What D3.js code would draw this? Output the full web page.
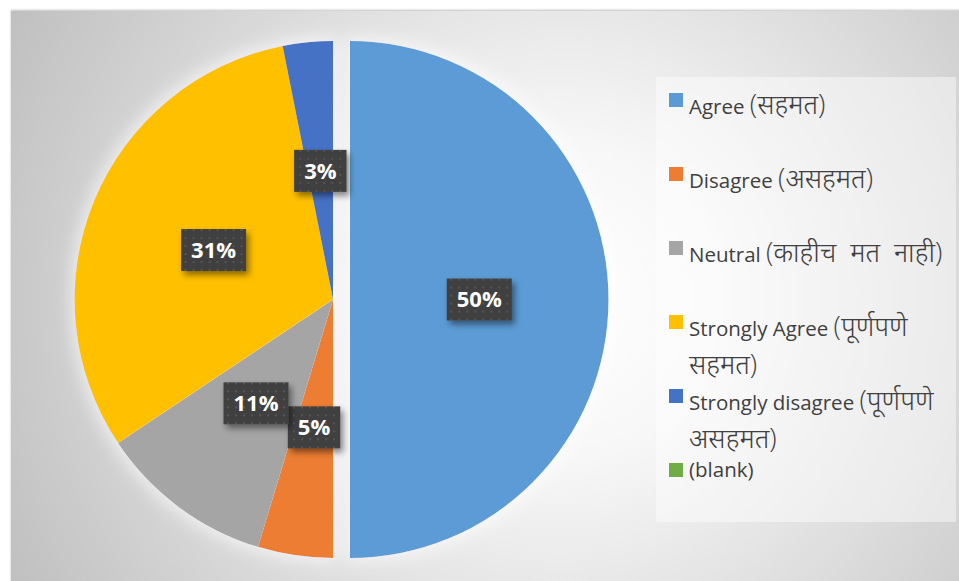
<!DOCTYPE html>
<html lang="en">
<head>
  <meta charset="UTF-8" />
  <title>Pie D3</title>
  <script src="https://d3js.org/d3.v7.min.js"></script>
  <style>
    body { margin: 0; background: #fff; }
    svg { display: block; }
    .legend-text { font-family: "Open Sans", "Noto Sans", "Noto Sans Devanagari", sans-serif; font-size: 20.5px; fill: #404040; }
    .legend-text .deva { font-size: 27px; font-weight: 300; }
    .pct { font-family: "Open Sans", "Noto Sans", sans-serif; font-size: 22px; font-weight: bold; fill: #fff; }
  </style>
</head>
<body>
<svg id="chart" width="959" height="581"></svg>
<script>
// == DATA ==
const categories = ["Agree (सहमत)", "Disagree (असहमत)", "Neutral (काहीच मत नाही)", "Strongly Agree (पूर्णपणे सहमत)", "Strongly disagree (पूर्णपणे असहमत)", "(blank)"];
const legendLines = [["Agree (सहमत)"], ["Disagree (असहमत)"], ["Neutral (काहीच  मत  नाही)"], ["Strongly Agree (पूर्णपणे", "सहमत)"], ["Strongly disagree (पूर्णपणे", "असहमत)"], ["(blank)"]];
const counts = [32, 3, 7, 20, 2, 0];
const colors = ["#5B9BD5", "#ED7D31", "#A5A5A5", "#FFC000", "#4472C4", "#70AD47"];

const svg = d3.select("#chart");
const defs = svg.append("defs");

// background gradient
const bg = defs.append("radialGradient").attr("id", "bg")
  .attr("gradientUnits", "userSpaceOnUse")
  .attr("cx", 560).attr("cy", 300).attr("r", 640);
bg.append("stop").attr("offset", 0).attr("stop-color", "#ffffff");
bg.append("stop").attr("offset", 0.25).attr("stop-color", "#f7f7f7");
bg.append("stop").attr("offset", 1).attr("stop-color", "#bdbdbd");

// dotted label fill
const pat = defs.append("pattern").attr("id", "dots")
  .attr("patternUnits", "userSpaceOnUse").attr("width", 8).attr("height", 8);
pat.append("rect").attr("width", 8).attr("height", 8).attr("fill", "#3f3f3f");
pat.append("rect").attr("x", 3).attr("y", 3).attr("width", 2).attr("height", 2).attr("fill", "#555");

const shadow = defs.append("filter").attr("id", "shadow")
  .attr("x", "-30%").attr("y", "-30%").attr("width", "170%").attr("height", "170%");
shadow.append("feDropShadow").attr("dx", 3).attr("dy", 4).attr("stdDeviation", 3)
  .attr("flood-color", "#000").attr("flood-opacity", 0.45);

const glow = defs.append("filter").attr("id", "glow")
  .attr("x", "-20%").attr("y", "-20%").attr("width", "140%").attr("height", "140%");
glow.append("feMorphology").attr("in", "SourceAlpha").attr("operator", "dilate").attr("radius", 4).attr("result", "d");
glow.append("feGaussianBlur").attr("in", "d").attr("stdDeviation", 8).attr("result", "b");
glow.append("feFlood").attr("flood-color", "#fff").attr("flood-opacity", 0.6);
glow.append("feComposite").attr("in2", "b").attr("operator", "in").attr("result", "g");
const gm = glow.append("feMerge");
gm.append("feMergeNode").attr("in", "g");
gm.append("feMergeNode").attr("in", "SourceGraphic");

const topShadow = defs.append("filter").attr("id", "areaShadow")
  .attr("x", "-5%").attr("y", "-5%").attr("width", "110%").attr("height", "110%");
topShadow.append("feDropShadow").attr("dx", 0).attr("dy", -1).attr("stdDeviation", 1)
  .attr("flood-color", "#000").attr("flood-opacity", 0.25);

// chart area
svg.append("rect").attr("x", 11).attr("y", 11).attr("width", 960).attr("height", 580)
  .attr("fill", "url(#bg)").attr("filter", "url(#areaShadow)");

// == PIE ==
const cx = 333, cy = 299.5, R = 258.5, explode = 17;
const pie = d3.pie().sort(null).value(d => d);
const arcs = pie(counts);
const arc = d3.arc().innerRadius(0).outerRadius(R);

const pieG = svg.append("g").attr("transform", `translate(${cx},${cy})`).attr("filter", "url(#glow)");

function offset(d, i) {
  if (i !== 0) return [0, 0];
  const a = (d.startAngle + d.endAngle) / 2;
  return [Math.sin(a) * explode, -Math.cos(a) * explode];
}

pieG.selectAll("path.slice")
  .data(arcs.filter(d => d.value > 0))
  .join("path")
  .attr("class", "slice")
  .attr("d", arc)
  .attr("fill", d => colors[d.index])
  .attr("transform", d => { const o = offset(d, d.index); return `translate(${o[0]},${o[1]})`; });

// data labels
const total = d3.sum(counts);
const labelG = svg.append("g").attr("transform", `translate(${cx},${cy})`);
arcs.filter(d => d.value > 0).forEach(d => {
  const o = offset(d, d.index);
  const c = arc.centroid(d);
  const g = labelG.append("g").attr("transform", `translate(${c[0] + o[0]},${c[1] + o[1]})`);
  const box = g.append("rect").attr("fill", "url(#dots)").attr("filter", "url(#shadow)");
  const t = g.append("text").attr("class", "pct")
    .attr("text-anchor", "middle").attr("dy", "0.36em")
    .text(Math.round(d.value / total * 100) + "%");
  const w = t.node().getComputedTextLength() + 20, h = 42;
  box.attr("x", -w / 2).attr("y", -h / 2).attr("width", w).attr("height", h);
});

// == LEGEND ==
svg.append("rect").attr("x", 656).attr("y", 77).attr("width", 300).attr("height", 445)
  .attr("fill", "#fff").attr("fill-opacity", 0.45);

// Devanagari runs (with their brackets) get a larger size so they match the Latin
const devaRun = /(\(?[\u0900-\u097F]+(?: +[\u0900-\u097F]+)*\)?)/;
const legend = svg.append("g");
categories.forEach((name, i) => {
  const y = 100 + i * 74;
  legend.append("rect").attr("x", 669).attr("y", y - 7).attr("width", 14).attr("height", 14)
    .attr("fill", colors[i]);
  const deva = /[\u0900-\u097F]/.test(name);
  const t = legend.append("text").attr("class", "legend-text")
    .attr("x", 689).attr("y", y + (deva ? 14 : 7))
    .attr("xml:space", "preserve").style("white-space", "pre");
  legendLines[i].forEach((line, j) => {
    line.split(devaRun).filter(s => s.length).forEach((part, k) => {
      const ts = t.append("tspan").text(part)
        .classed("deva", /[\u0900-\u097F]/.test(part));
      if (k === 0) ts.attr("x", 689).attr("dy", j === 0 ? 0 : 38);
    });
  });
});
</script>
</body>
</html>
